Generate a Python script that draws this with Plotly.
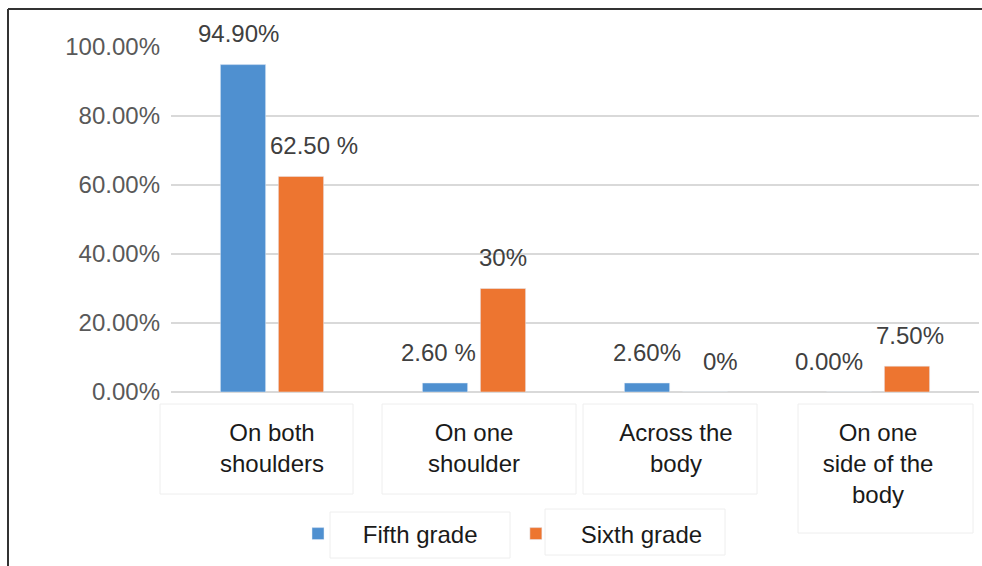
import plotly.graph_objects as go

categories = ["On both<br>shoulders", "On one<br>shoulder", "Across the<br>body", "On one<br>side of the<br>body"]
fifth_grade = [0.949, 0.026, 0.026, 0.0]
sixth_grade = [0.625, 0.30, 0.0, 0.075]
fifth_labels = ["94.90%", "2.60 %", "2.60%", "0.00%"]
sixth_labels = ["62.50 %", "30%", "0%", "7.50%"]
y_ticks = [0, 0.2, 0.4, 0.6, 0.8, 1.0]

# small horizontal nudges of the data labels (pixels), as placed in the original
fifth_nudge = [-5, -7, 0, -20]
sixth_nudge = [13, 0, 15, 3]

W, H = 982, 566
L, R, T, B = 171, 3, 47, 174
PW, PH = W - L - R, H - T - B

def px(x):
    return (x - L) / PW

def py(y):
    return (H - B - y) / PH

BLUE = "#4F90D0"
ORANGE = "#ED7530"
FONT = "Liberation Sans, Arial, sans-serif"
NB = "\u00a0"

fig = go.Figure()
fig.add_trace(go.Bar(x=categories, y=fifth_grade, name=NB * 3 + "\u2009Fifth grade" + NB * 5,
                     marker_color=BLUE))
fig.add_trace(go.Bar(x=categories, y=sixth_grade, name=NB * 3 + "\u2009Sixth grade",
                     marker_color=ORANGE))

annotations = []
for i, c in enumerate(categories):
    for val, lab, sh in ((fifth_grade[i], fifth_labels[i], -29 + fifth_nudge[i]),
                         (sixth_grade[i], sixth_labels[i], 29 + sixth_nudge[i])):
        annotations.append(dict(x=c, y=val, xref="x", yref="y", text=lab, showarrow=False,
                                xshift=sh, yshift=31, yanchor="middle",
                                font=dict(family=FONT, size=24, color="#404040")))

shapes = []
# outer frame (top and left edges visible)
shapes.append(dict(type="line", xref="paper", yref="paper", x0=px(8), x1=px(990), y0=py(9), y1=py(9),
                   line=dict(color="#333333", width=2)))
shapes.append(dict(type="line", xref="paper", yref="paper", x0=px(8), x1=px(8), y0=py(9), y1=py(570),
                   line=dict(color="#333333", width=2)))
# faint label boxes
boxes = [(160, 404, 353, 494), (382, 404, 576, 494), (583, 404, 757, 494), (798, 404, 973, 533),
         (330, 512, 510, 558), (545, 509, 725, 555)]
for x0, y0, x1, y1 in boxes:
    shapes.append(dict(type="rect", xref="paper", yref="paper", x0=px(x0), x1=px(x1), y0=py(y1), y1=py(y0),
                       line=dict(color="#eeeeee", width=1), layer="below"))

fig.update_layout(
    width=W, height=H,
    margin=dict(l=L, r=R, t=T, b=B),
    paper_bgcolor="white", plot_bgcolor="white",
    barmode="group", bargap=0.426, bargroupgap=0.22,
    font=dict(family=FONT),
    showlegend=True,
    legend=dict(orientation="h", x=px(298), xanchor="left", y=py(534), yanchor="middle",
                font=dict(family=FONT, size=24, color="#1a1a1a"), traceorder="normal",
                itemclick=False, bgcolor="rgba(0,0,0,0)"),
    annotations=annotations,
    shapes=shapes,
    xaxis=dict(showgrid=False, showline=False, zeroline=False, ticks="",
               tickfont=dict(family=FONT, size=24, color="#1a1a1a"), ticklabelstandoff=24),
    yaxis=dict(range=[0, 1.0], tickvals=y_ticks, tickformat=".2%", showgrid=True,
               gridcolor="#d9d9d9", gridwidth=2, zeroline=True, zerolinecolor="#d9d9d9", zerolinewidth=2,
               showline=False, ticks="", ticklabelstandoff=10,
               tickfont=dict(family=FONT, size=24, color="#595959")),
)

fig.write_html("out.html")
